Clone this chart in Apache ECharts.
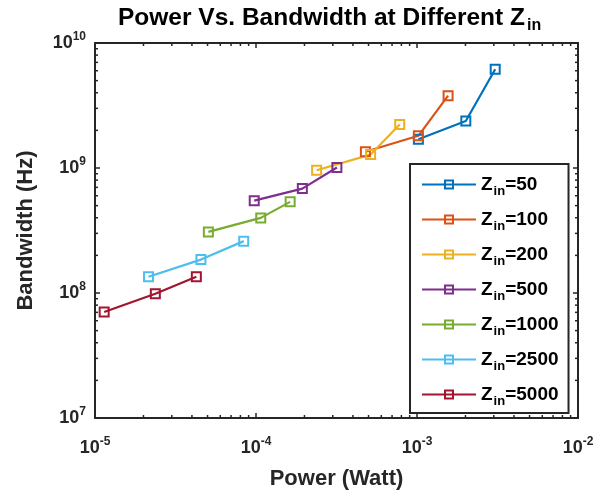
<!DOCTYPE html>
<html>
<head>
<meta charset="utf-8">
<script src="https://cdn.jsdelivr.net/npm/echarts@6/dist/echarts.min.js"></script>
<style>
  html, body { margin: 0; padding: 0; background: #fff; }
  #chart { width: 615px; height: 495px; }
</style>
</head>
<body>
<div id="chart"></div>
<script>
// Z_in values, one series each
const zinValues = [50, 100, 200, 500, 1000, 2500, 5000]

// power (W)
const powerZ50 = [1.02e-3, 2.01e-3, 3.06e-3]
const powerZ100 = [4.78e-4, 1.02e-3, 1.56e-3]
const powerZ200 = [2.38e-4, 5.15e-4, 7.81e-4]
const powerZ500 = [9.75e-5, 1.94e-4, 3.18e-4]
const powerZ1000 = [5.06e-5, 1.07e-4, 1.63e-4]
const powerZ2500 = [2.15e-5, 4.55e-5, 8.39e-5]
const powerZ5000 = [1.14e-5, 2.37e-5, 4.26e-5]

// bandwidth (Hz)
const bwZ50 = [1.70e9, 2.38e9, 6.16e9]
const bwZ100 = [1.35e9, 1.81e9, 3.79e9]
const bwZ200 = [9.6e8, 1.28e9, 2.23e9]
const bwZ500 = [5.48e8, 6.84e8, 1.01e9]
const bwZ1000 = [3.08e8, 3.99e8, 5.36e8]
const bwZ2500 = [1.35e8, 1.85e8, 2.60e8]
const bwZ5000 = [7.05e7, 9.86e7, 1.35e8]

const powerList = [powerZ50, powerZ100, powerZ200, powerZ500, powerZ1000, powerZ2500, powerZ5000]
const bwList = [bwZ50, bwZ100, bwZ200, bwZ500, bwZ1000, bwZ2500, bwZ5000]

const colorList = ['#0072BD', '#D95319', '#EDB120', '#7E2F8E', '#77AC30', '#4DBEEE', '#A2142F']

// minor tick positions (2..9 per decade)
const xMinor = []
for (let e = -5; e < -2; e++) {
  for (let k = 2; k < 10; k++) xMinor.push(k * Math.pow(10, e))
}
const yMinor = []
for (let e = 7; e < 10; e++) {
  for (let k = 2; k < 10; k++) yMinor.push(k * Math.pow(10, e))
}

const axisColor = '#262626'
const fontFamily = '"Liberation Sans", Arial, sans-serif'

const powLabel = (value) => {
  const e = Math.round(Math.log10(value))
  return '{b|10}{s|' + e + '}'
}
const powRich = {
  b: { fontSize: 18, fontWeight: 'bold', color: axisColor, fontFamily },
  s: { fontSize: 12, fontWeight: 'bold', color: axisColor, fontFamily, padding: [0, 0, 12, 0] }
}

const chart = echarts.init(document.getElementById('chart'))

const lineSeries = zinValues.map((z, i) => ({
  name: 'Z=' + z,
  type: 'line',
  xAxisIndex: 0,
  yAxisIndex: 0,
  data: powerList[i].map((p, j) => [p, bwList[i][j]]),
  symbol: 'rect',
  symbolSize: 9,
  showAllSymbol: true,
  lineStyle: { color: colorList[i], width: 2.2 },
  itemStyle: { color: 'rgba(255,255,255,0)', borderColor: colorList[i], borderWidth: 2 },
  emphasis: { disabled: true },
  z: 3
}))

const minorSeries = [
  {
    type: 'custom',
    xAxisIndex: 0,
    yAxisIndex: 0,
    silent: true,
    data: xMinor.map((v) => [v, 1e8]),
    renderItem: (params, api) => {
      const c = params.coordSys
      const x = api.coord([api.value(0), api.value(1)])[0]
      const style = { stroke: axisColor, lineWidth: 1.5 }
      return {
        type: 'group',
        children: [
          { type: 'line', shape: { x1: x, y1: c.y + c.height, x2: x, y2: c.y + c.height - 3 }, style },
          { type: 'line', shape: { x1: x, y1: c.y, x2: x, y2: c.y + 3 }, style }
        ]
      }
    }
  },
  {
    type: 'custom',
    xAxisIndex: 0,
    yAxisIndex: 0,
    silent: true,
    data: yMinor.map((v) => [1e-4, v]),
    renderItem: (params, api) => {
      const c = params.coordSys
      const y = api.coord([api.value(0), api.value(1)])[1]
      const style = { stroke: axisColor, lineWidth: 1.5 }
      return {
        type: 'group',
        children: [
          { type: 'line', shape: { x1: c.x, y1: y, x2: c.x + 3, y2: y }, style },
          { type: 'line', shape: { x1: c.x + c.width, y1: y, x2: c.x + c.width - 3, y2: y }, style }
        ]
      }
    }
  }
]

const commonX = {
  type: 'log',
  logBase: 10,
  min: 1e-5,
  max: 1e-2,
  splitLine: { show: false },
  axisLine: { show: true, onZero: false, lineStyle: { color: axisColor, width: 2 } },
  axisTick: { show: true, inside: true, length: 5, lineStyle: { color: axisColor, width: 1.5 } }
}
const commonY = {
  type: 'log',
  logBase: 10,
  min: 1e7,
  max: 1e10,
  splitLine: { show: false },
  axisLine: { show: true, onZero: false, lineStyle: { color: axisColor, width: 2 } },
  axisTick: { show: true, inside: true, length: 5, lineStyle: { color: axisColor, width: 1.5 } }
}

chart.setOption({
  backgroundColor: '#fff',
  animation: false,
  title: {
    text: '{t|Power Vs. Bandwidth at Different Z}{s|in}',
    left: 113,
    top: -3,
    textStyle: {
      rich: {
        t: { fontSize: 24.5, fontWeight: 'bold', color: '#000', fontFamily },
        s: { fontSize: 16, fontWeight: 'bold', color: '#000', fontFamily, padding: [16, 0, 0, 2] }
      }
    }
  },
  grid: { left: 95, right: 37, top: 43, bottom: 76, containLabel: false },
  legend: {
    data: lineSeries.map((s) => s.name),
    orient: 'vertical',
    left: 410,
    top: 164,
    padding: [11, 10, 5, 11],
    itemGap: 12,
    itemWidth: 54,
    itemHeight: 10,
    backgroundColor: '#fff',
    borderColor: axisColor,
    borderWidth: 2,
    borderRadius: 0,
    formatter: (name) => '{z|Z}{sub|in}{z|' + name.slice(1) + '}',
    textStyle: {
      rich: {
        z: { fontSize: 19, fontWeight: 'bold', color: '#000', fontFamily },
        sub: { fontSize: 13, fontWeight: 'bold', color: '#000', fontFamily, padding: [14, 0, 0, 1] }
      }
    },
    selectedMode: false
  },
  xAxis: [
    Object.assign({}, commonX, {
      position: 'bottom',
      name: 'Power (Watt)',
      nameLocation: 'middle',
      nameGap: 50,
      nameTextStyle: { fontSize: 22, fontWeight: 'bold', color: axisColor, fontFamily },
      axisLabel: { formatter: powLabel, rich: powRich, margin: 18 }
    }),
    Object.assign({}, commonX, {
      position: 'top',
      axisLabel: { show: false }
    })
  ],
  yAxis: [
    Object.assign({}, commonY, {
      position: 'left',
      name: 'Bandwidth (Hz)',
      nameLocation: 'middle',
      nameGap: 58,
      nameTextStyle: { fontSize: 22, fontWeight: 'bold', color: axisColor, fontFamily },
      axisLabel: { formatter: powLabel, rich: powRich, margin: 9 }
    }),
    Object.assign({}, commonY, {
      position: 'right',
      axisLabel: { show: false }
    })
  ],
  series: lineSeries.concat(minorSeries)
})
</script>
</body>
</html>
